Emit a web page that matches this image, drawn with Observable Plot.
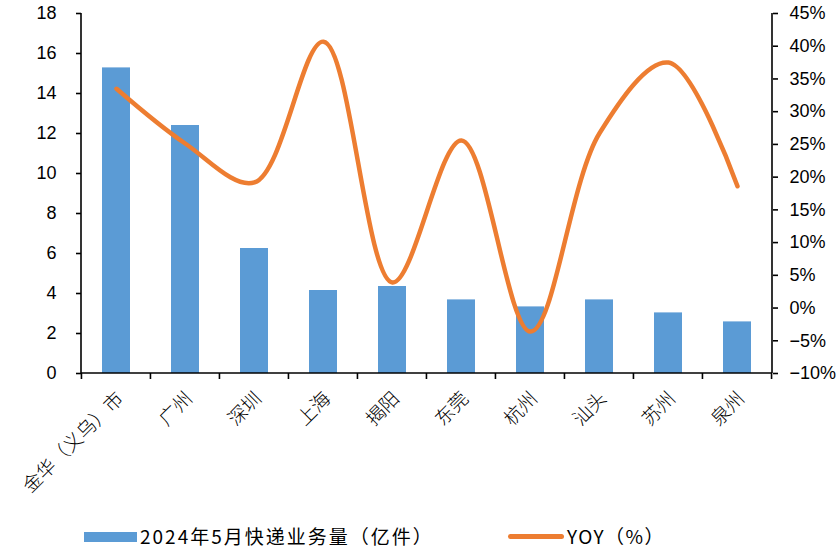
<!DOCTYPE html>
<html>
<head>
<meta charset="utf-8">
<script src="https://cdn.jsdelivr.net/npm/d3@7"></script>
<script src="https://cdn.jsdelivr.net/npm/@observablehq/plot@0.6"></script>
<style>
  html, body { margin: 0; padding: 0; background: #fff; }
  #wrap { position: relative; width: 840px; height: 552px; overflow: hidden; }
  .leg { position: absolute; font-family: "Noto Sans CJK SC", sans-serif; font-size: 19px; color: #000; white-space: nowrap; line-height: 20px; }
</style>
</head>
<body>
<div id="wrap"></div>
<script>
const cities = ["金华（义乌）市", "广州", "深圳", "上海", "揭阳", "东莞", "杭州", "汕头", "苏州", "泉州"];
const volume = [15.28, 12.4, 6.25, 4.15, 4.35, 3.68, 3.33, 3.68, 3.03, 2.58];
const yoy = [33.5, 25.1, 19.2, 40.7, 3.9, 25.6, -3.6, 26.7, 37.5, 18.6];
const leftTicks = [0, 2, 4, 6, 8, 10, 12, 14, 16, 18];
const rightTicks = [-10, -5, 0, 5, 10, 15, 20, 25, 30, 35, 40, 45];
const legendBar = "2024年5月快递业务量（亿件）";
const legendLine = "YOY（%）";

const data = cities.map((c, i) => ({city: c, volume: volume[i], yoy: yoy[i]}));
// map right-axis (%) domain [-10, 45] onto left domain [0, 18]
const toLeft = v => (v + 10) * 18 / 55;
const fromLeft = v => Math.round(v * 55 / 18 - 10);
const fmtPct = v => (v < 0 ? "\u2212" + Math.abs(v) : String(v)) + "%";

const W = 840, H = 515;
const mL = 81, mR = 68, mT = 13, mB = H - 373;
const step = (W - mL - mR) / cities.length;

function axisLines(index, scales, values, dims) {
  const g = d3.create("svg:g").attr("stroke", "#000").attr("stroke-width", 1.6).attr("fill", "none");
  const x0 = dims.marginLeft, x1 = dims.width - dims.marginRight;
  const yb = dims.height - dims.marginBottom, yt = dims.marginTop;
  g.append("line").attr("x1", x0).attr("x2", x0).attr("y1", yt).attr("y2", yb);
  g.append("line").attr("x1", x1).attr("x2", x1).attr("y1", yt).attr("y2", yb);
  g.append("line").attr("x1", x0).attr("x2", x1).attr("y1", yb).attr("y2", yb);
  const bw = scales.x.bandwidth ? scales.x.bandwidth() : 0;
  const edges = cities.map(c => scales.x(c) - (step - bw) / 2);
  edges.push(edges[edges.length - 1] + step);
  for (const e of edges) {
    g.append("line").attr("x1", e).attr("x2", e).attr("y1", yb).attr("y2", yb + 6);
  }
  return g.node();
}

const chart = Plot.plot({
  width: W, height: H,
  marginLeft: mL, marginRight: mR, marginTop: mT, marginBottom: mB,
  style: {fontFamily: "Liberation Sans, Arial, sans-serif", fontSize: "18px", color: "#000", background: "#fff", overflow: "visible"},
  x: {domain: cities, paddingInner: 0.6, paddingOuter: 0.3, axis: null},
  y: {domain: [0, 18], axis: null},
  marks: [
    Plot.barY(data, {x: "city", y: "volume", fill: "#5B9BD5"}),
    Plot.lineY(data, {x: "city", y: d => toLeft(d.yoy), stroke: "#ED7D31", strokeWidth: 4.5, curve: "catmull-rom", strokeLinecap: "round", strokeLinejoin: "round"}),
    Plot.axisY({anchor: "left", ticks: leftTicks, tickSize: 5, tickPadding: 20, tickFormat: d => String(d), strokeWidth: 1.6, label: null}),
    Plot.axisY({anchor: "right", ticks: rightTicks.map(toLeft), tickSize: 5, tickPadding: 12, tickFormat: d => fmtPct(fromLeft(d)), strokeWidth: 1.6, label: null}),
    Plot.axisX({anchor: "bottom", tickSize: 0, tickPadding: 22, dx: 4, tickRotate: -45, fontFamily: "Noto Sans CJK SC, sans-serif", fontSize: 19, fontWeight: 300, letterSpacing: 2.5, label: null}),
    axisLines
  ]
});

const wrap = document.getElementById("wrap");
wrap.appendChild(chart);

const sw1 = document.createElement("div");
sw1.style.cssText = "position:absolute;left:84px;top:532px;width:53px;height:10px;background:#5B9BD5;";
wrap.appendChild(sw1);
const t1 = document.createElement("div");
t1.className = "leg";
t1.style.cssText = "left:140px;top:526px;letter-spacing:2px;";
t1.textContent = legendBar;
wrap.appendChild(t1);
const sw2 = document.createElement("div");
sw2.style.cssText = "position:absolute;left:508px;top:534px;width:56px;height:5px;border-radius:3px;background:#ED7D31;";
wrap.appendChild(sw2);
const t2 = document.createElement("div");
t2.className = "leg";
t2.style.cssText = "left:567px;top:526px;letter-spacing:1.5px;";
t2.textContent = legendLine;
wrap.appendChild(t2);
</script>
</body>
</html>
